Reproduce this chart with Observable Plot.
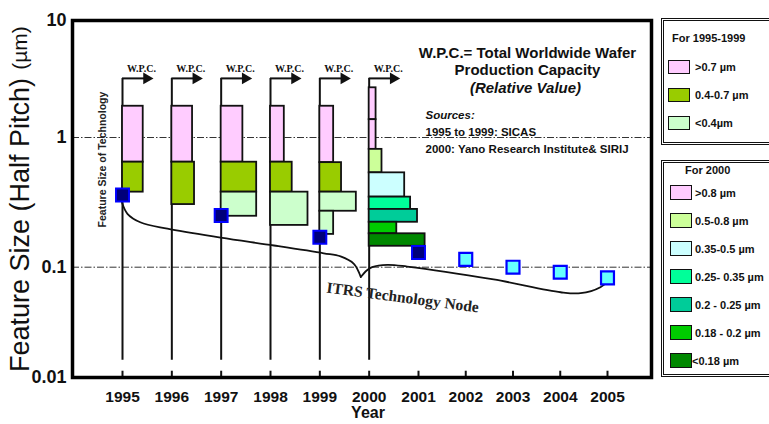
<!DOCTYPE html>
<html><head><meta charset="utf-8">
<script src="https://cdn.jsdelivr.net/npm/d3@7"></script>
<script src="https://cdn.jsdelivr.net/npm/@observablehq/plot@0.6"></script>
<style>
body{margin:0;background:#fff;}
#wrap{position:relative;width:769px;height:424px;overflow:hidden;font-family:"Liberation Sans",Arial,sans-serif;background:#fff;}
#wrap svg{position:absolute;left:0;top:0;}
.lg{position:absolute;left:661px;width:130px;border:3px double #111;box-sizing:border-box;background:#fff;}
.lt{position:absolute;font-weight:bold;font-size:11px;white-space:nowrap;line-height:12px;color:#111;}
.sw{position:absolute;width:22px;height:14px;border:1.6px solid #111;box-sizing:border-box;}
</style></head><body><div id="wrap"></div>
<script>
// ---- data ----
const years = [1995,1996,1997,1998,1999,2000,2001,2002,2003,2004,2005];
const yTicks = [10, 1, 0.1, 0.01];
const gridValues = [1, 0.1];
const wpcYears = [1995,1996,1997,1998,1999,2000];
const wpcTop = 3.2, wpcBottom = 0.0143;   // extent of the W.P.C. year lines (µm)

// capacity bars (relative W.P.C. value, µm range)
const barYear = [1995,1995,1996,1996,1997,1997,1997,1998,1998,1998,1999,1999,1999,1999,2000,2000,2000,2000,2000,2000,2000,2000];
const barBand = [">0.7 µm","0.4-0.7 µm",">0.7 µm","0.4-0.7 µm",">0.7 µm","0.4-0.7 µm","<0.4µm",">0.7 µm","0.4-0.7 µm","<0.4µm",">0.7 µm","0.4-0.7 µm","<0.4µm","<0.4µm",">0.8 µm",">0.8 µm","0.5-0.8 µm","0.35-0.5 µm","0.25- 0.35 µm","0.2 - 0.25 µm","0.18 - 0.2 µm","<0.18 µm"];
const barLo  = [0.645,0.379,0.645,0.304,0.645,0.379,0.247,0.645,0.379,0.21,0.64,0.379,0.27,0.179,1.42,0.81,0.534,0.347,0.279,0.222,0.181,0.145];
const barHi  = [1.85,0.645,1.85,0.645,1.85,0.645,0.379,1.85,0.645,0.379,1.85,0.64,0.379,0.27,2.66,1.42,0.81,0.534,0.347,0.279,0.222,0.181];
const barWpc = [2.1,2.1,2.1,2.3,2.2,3.6,3.6,1.4,2.2,3.8,1.4,2.2,3.7,1.4,0.7,0.7,1.3,3.6,4.2,4.9,2.8,5.7];
const wpcUnit = 0.2; // years of axis per relative W.P.C. unit

// ITRS technology nodes
const nodeYears = [1995,1997,1999,2001,2002,2003,2004,2005];
const nodeSize  = [0.36,0.25,0.17,0.13,0.115,0.1,0.09,0.08];
const nodeFuture = [false,false,false,false,true,true,true,true];

// brace line "ITRS Technology Node"
const braceX = [1994.99,1995.10,1995.36,1995.91,1996.99,1998.07,1999.08,1999.42,1999.69,1999.83,
                1999.83,1999.95,2000.06,2000.37,2000.77,2002.59,2004.01,2004.43,2004.85,2005.02];
const braceY = [0.315,0.258,0.222,0.198,0.169,0.147,0.128,0.121,0.106,0.0815,
                0.0815,0.0934,0.1003,0.1043,0.1012,0.0774,0.0593,0.0581,0.0659,0.0757];
const braceSide = [0,0,0,0,0,0,0,0,0,0,1,1,1,1,1,1,1,1,1,1];

// legends
const legend1Labels = [">0.7 µm","0.4-0.7 µm","<0.4µm"];
const legend1Colors = ["#ffccff","#99cc00","#ccffcc"];
const legend2Labels = [">0.8 µm","0.5-0.8 µm","0.35-0.5 µm","0.25- 0.35 µm","0.2 - 0.25 µm","0.18 - 0.2 µm","<0.18 µm"];
const legend2Colors = ["#ffccff","#ccff99","#ccffff","#00ff99","#00cc99","#00cc00","#008800"];

// ---- build ----
const bars = barYear.map((y,i)=>({year:y, band:barBand[i], lo:barLo[i], hi:barHi[i], wpc:barWpc[i]}));
const nodes = nodeYears.map((y,i)=>({year:y, size:nodeSize[i], future:nodeFuture[i]}));
const brace = braceX.map((x,i)=>({x, y:braceY[i], side:braceSide[i]}));

const serif = "'Liberation Serif','Times New Roman',serif";
const chart = Plot.plot({
  width: 769, height: 424,
  marginLeft: 72, marginRight: 118, marginTop: 20, marginBottom: 47,
  style: {fontFamily: "'Liberation Sans',Arial,sans-serif", background: "transparent", overflow: "visible", color: "#111"},
  x: {type: "linear", domain: [1995, 2001, 2005], range: [122, 418, 607]},
  y: {type: "log", domain: [0.01, 0.1, 1, 10], range: [377, 266.7, 137, 20]},
  color: {domain: legend1Labels.concat(legend2Labels), range: legend1Colors.concat(legend2Colors)},
  marks: [
    Plot.ruleY(gridValues, {stroke: "#333", strokeWidth: 1, strokeDasharray: "7,2,1.5,2"}),
    Plot.line(brace, {x: "x", y: "y", z: "side", curve: "catmull-rom", stroke: "#111", strokeWidth: 1.8}),
    Plot.ruleX(wpcYears, {x: d => d, y1: wpcBottom, y2: wpcTop, stroke: "#111", strokeWidth: 2}),
    Plot.ruleY(wpcYears, {x1: d => d, x2: d => d + 0.48, y: wpcTop, stroke: "#111", strokeWidth: 2}),
    Plot.dot(wpcYears, {x: d => d + 0.49, y: wpcTop, symbol: "triangle", r: 4.4, rotate: 90, fill: "#111", stroke: "none"}),
    Plot.text(wpcYears, {x: d => d, y: wpcTop, text: () => "W.P.C.", dx: 19, dy: -10, fontFamily: serif, fontWeight: "bold", fontSize: 10}),
    Plot.rect(bars, {x1: "year", x2: d => d.year + d.wpc * wpcUnit, y1: "lo", y2: "hi", fill: "band", stroke: "#111", strokeWidth: 1.8}),
    Plot.dot(nodes.filter(d => !d.future), {x: "year", y: "size", symbol: "square", r: 7.3, fill: "#00007a", stroke: "#0000ff", strokeWidth: 2}),
    Plot.dot(nodes.filter(d => d.future), {x: "year", y: "size", symbol: "square", r: 7.3, fill: "#66ffff", stroke: "#0000ff", strokeWidth: 2.2}),
    Plot.text(["Feature Size of Technology"], {x: 1994.59, y: 0.676, rotate: -90, fontSize: 10.5, fontWeight: "bold", fill: "#222"}),
    Plot.text(["ITRS Technology Node"], {x: 2000.68, y: 0.0531, rotate: 7.5, fontSize: 15.5, fontWeight: "bold", fontFamily: serif, fill: "#222"}),
    // explanatory block
    Plot.text(["W.P.C.= Total Worldwide Wafer"], {frameAnchor: "top-left", textAnchor: "middle", dx: 455, dy: 27, fontSize: 15, fontWeight: "bold"}),
    Plot.text(["Production Capacity"], {frameAnchor: "top-left", textAnchor: "middle", dx: 455, dy: 43.5, fontSize: 15, fontWeight: "bold"}),
    Plot.text(["(Relative Value)"], {frameAnchor: "top-left", textAnchor: "middle", dx: 453, dy: 62, fontSize: 15, fontWeight: "bold", fontStyle: "italic"}),
    Plot.text(["Sources:"], {frameAnchor: "top-left", dx: 353, dy: 90, textAnchor: "start", fontSize: 11.5, fontWeight: "bold", fontStyle: "italic"}),
    Plot.text(["1995 to 1999: SICAS"], {frameAnchor: "top-left", dx: 353, dy: 107.5, textAnchor: "start", fontSize: 11.5, fontWeight: "bold"}),
    Plot.text(["2000: Yano Research Institute& SIRIJ"], {frameAnchor: "top-left", dx: 353, dy: 124.5, textAnchor: "start", fontSize: 11.5, fontWeight: "bold"}),
    // axes
    Plot.axisY(yTicks, {tickSize: 0, tickPadding: 6, tickFormat: d => String(d), fontSize: 18, fontWeight: "bold", label: null}),
    Plot.axisX(years, {tickSize: 0, tickPadding: 13, tickFormat: d => String(d), fontSize: 15.5, fontWeight: "bold", label: null}),
    Plot.ruleX(years, {x: d => d, y1: 0.01, y2: 0.0114, stroke: "#111", strokeWidth: 2}),
    Plot.text(["Year"], {frameAnchor: "bottom", dx: 6, dy: 40, fontSize: 16, fontWeight: "bold"}),
    Plot.text(["Feature Size (Half Pitch)"], {frameAnchor: "left", textAnchor: "middle", dx: -52, dy: 26, rotate: -90, fontSize: 27}),
    Plot.text(["(µm)"], {frameAnchor: "left", textAnchor: "middle", dx: -52, dy: -151, rotate: -90, fontSize: 21}),
    Plot.frame({stroke: "#000", strokeWidth: 3.5})
  ]
});
const wrap = document.getElementById("wrap");
wrap.appendChild(chart);

// legends (HTML boxes at the right)
function addBox(top, height){ const b=document.createElement("div"); b.className="lg"; b.style.top=top+"px"; b.style.height=height+"px"; wrap.appendChild(b); }
function addText(txt, left, cy){ const t=document.createElement("div"); t.className="lt"; t.textContent=txt; t.style.left=left+"px"; t.style.top=(cy-6)+"px"; wrap.appendChild(t); }
function addSwatch(color, left, cy, h){ const s=document.createElement("div"); s.className="sw"; s.style.background=color; s.style.left=left+"px"; s.style.top=(cy-h/2)+"px"; s.style.height=h+"px"; wrap.appendChild(s); }
addBox(18, 127);
addText("For 1995-1999", 672, 38);
legend1Labels.forEach((l,i)=>{ const cy = 66.7 + i*28.2; addSwatch(legend1Colors[i], 668, cy, 14); addText(l, 695, cy); });
addBox(160, 217);
addText("For 2000", 685, 170);
legend2Labels.forEach((l,i)=>{ const cy = 192.5 + i*28; addSwatch(legend2Colors[i], 670, cy, 15); addText(l, i===6 ? 692 : 695, cy); });
</script></body></html>
